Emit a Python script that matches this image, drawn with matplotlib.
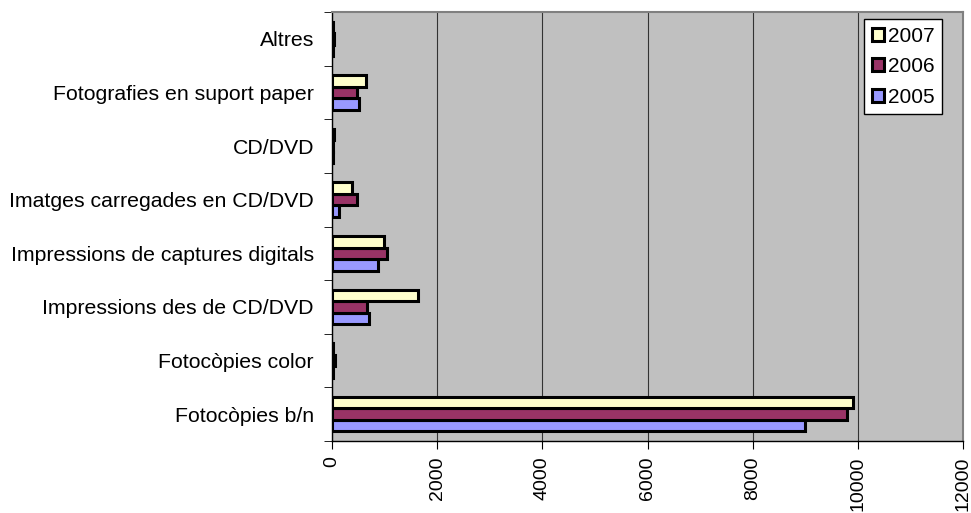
import matplotlib.pyplot as plt
import numpy as np

plt.rcParams['font.family'] = ['Liberation Sans', 'DejaVu Sans']

categories = ["Fotocòpies b/n", "Fotocòpies color", "Impressions des de CD/DVD",
              "Impressions de captures digitals", "Imatges carregades en CD/DVD",
              "CD/DVD", "Fotografies en suport paper", "Altres"]
v2005 = [9000, 25, 700, 875, 140, 10, 505, 20]
v2006 = [9800, 50, 660, 1050, 475, 15, 470, 40]
v2007 = [9900, 15, 1635, 995, 375, 40, 640, 10]

y = np.arange(len(categories))
h = 0.215

fig = plt.figure(figsize=(9.71, 5.13), dpi=100)
ax = fig.add_axes([332/971, 1 - 441/513, (963-332)/971, (441-12)/513])
ax.set_facecolor('#C0C0C0')

ax.barh(y - h, v2005, height=h, color='#9999FF', edgecolor='black', linewidth=2.2, label='2005', zorder=3)
ax.barh(y, v2006, height=h, color='#993366', edgecolor='black', linewidth=2.2, label='2006', zorder=3)
ax.barh(y + h, v2007, height=h, color='#FFFFCC', edgecolor='black', linewidth=2.2, label='2007', zorder=3)

ax.set_xlim(0, 12000)
ax.set_ylim(-0.5, len(categories) - 0.5)
ax.set_xticks(np.arange(0, 12001, 2000))
ax.set_xticklabels([str(v) for v in range(0, 12001, 2000)], rotation=90, fontsize=14)
ax.xaxis.grid(True, color='#333333', linewidth=0.8, zorder=0)

ax.set_yticks(y)
ax.set_yticklabels(categories, fontsize=15.3)
ax.set_yticks(np.arange(-0.5, len(categories), 1), minor=True)
ax.tick_params(axis='y', which='major', length=0, pad=13)
ax.tick_params(axis='y', which='minor', length=6, direction='out')
ax.tick_params(axis='x', length=6, direction='out', pad=5)

for s in ['top', 'right']:
    ax.spines[s].set_color('#808080')
    ax.spines[s].set_linewidth(1.5)
for s in ['left', 'bottom']:
    ax.spines[s].set_color('black')
    ax.spines[s].set_linewidth(1)

handles, labels = ax.get_legend_handles_labels()
leg = ax.legend(handles[::-1], labels[::-1], loc='upper right', bbox_to_anchor=(0.967, 0.983),
                fontsize=15, frameon=True, fancybox=False, edgecolor='black', framealpha=1,
                handlelength=0.6, handleheight=0.6, handletextpad=0.2, labelspacing=0.55,
                borderpad=0.35, borderaxespad=0)
leg.get_frame().set_facecolor('white')
leg.get_frame().set_linewidth(1)

fig.savefig('out.png', dpi=100)
